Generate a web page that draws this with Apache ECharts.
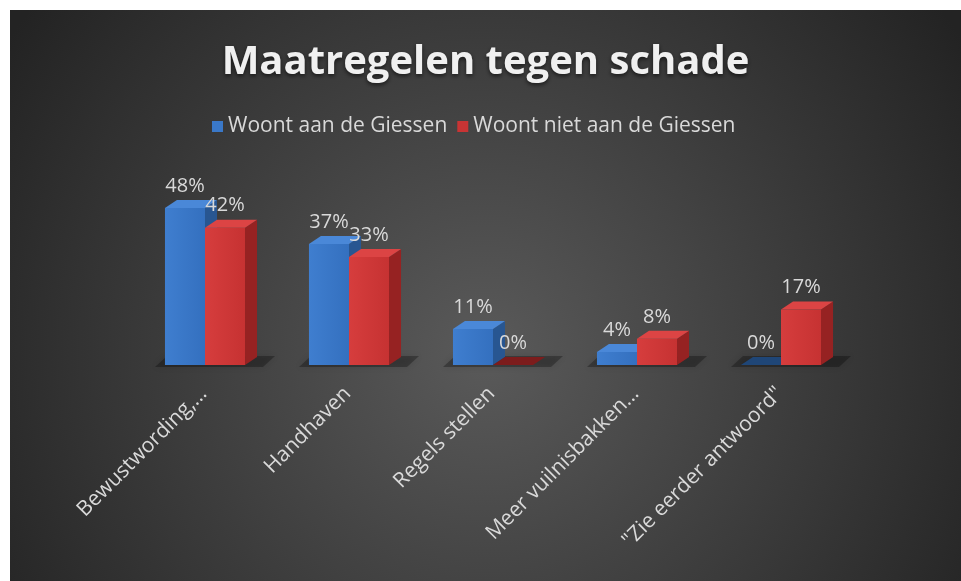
<!DOCTYPE html>
<html lang="nl">
<head>
    <meta charset="UTF-8">
    <title>Maatregelen tegen schade</title>
    <style>
        html, body {
            margin: 0;
            padding: 0;
            background-color: #ffffff;
        }

        #chart {
            position: absolute;
            left: 10px;
            top: 10px;
            width: 951px;
            height: 571px;
        }
    </style>
</head>
<body>
<div id="chart"></div>
<script src="https://cdn.jsdelivr.net/npm/echarts@6/dist/echarts.min.js"></script>
<script>
    var categories = ['Bewustwording,…', 'Handhaven', 'Regels stellen', 'Meer vuilnisbakken…', '"Zie eerder antwoord"'];
    var seriesNames = ['Woont aan de Giessen', 'Woont niet aan de Giessen'];
    var woontAan = [48, 37, 11, 4, 0];
    var woontNiet = [42, 33, 0, 8, 17];

    var font = '"Open Sans", "Liberation Sans", sans-serif';
    var textColor = '#d9d9d9';
    var depthX = 12, depthY = 8;

    // kleuren per serie: voorkant, zijkant, bovenkant, bovenkant bij 0
    var palette = [
        {front: ['#3f7ecf', '#3470bf'], side: '#285691', top: '#4a88d8', flat: '#1f4677'},
        {front: ['#d63d3d', '#c63232'], side: '#962222', top: '#dc4444', flat: '#7c1c1c'}
    ];

    function barRenderer(idx) {
        return function (params, api) {
            var ci = api.value(0), v = api.value(1);
            var base = api.coord([ci, 0]);
            var top = api.coord([ci, v]);
            var w = api.size([1, 0])[0] * 0.278;
            var x0 = idx === 0 ? base[0] - w : base[0];
            var x1 = x0 + w;
            var yb = base[1], yt = top[1];
            var c = palette[idx];
            var children = [];
            if (v > 0) {
                children.push({
                    type: 'polygon',
                    shape: {points: [[x1, yb], [x1 + depthX, yb - depthY], [x1 + depthX, yt - depthY], [x1, yt]]},
                    style: {fill: c.side}
                });
                children.push({
                    type: 'rect',
                    shape: {x: x0, y: yt, width: w, height: yb - yt},
                    style: {
                        fill: new echarts.graphic.LinearGradient(0, 0, 1, 0, [
                            {offset: 0, color: c.front[0]},
                            {offset: 1, color: c.front[1]}
                        ])
                    }
                });
            }
            children.push({
                type: 'polygon',
                shape: {points: [[x0, yt], [x1, yt], [x1 + depthX, yt - depthY], [x0 + depthX, yt - depthY]]},
                style: {fill: v > 0 ? c.top : c.flat}
            });
            children.push({
                type: 'text',
                style: {
                    x: (x0 + x1) / 2,
                    y: yt - depthY - 4,
                    text: Math.round(v) + '%',
                    fill: textColor,
                    font: '20px ' + font,
                    align: 'center',
                    verticalAlign: 'bottom'
                }
            });
            return {type: 'group', children: children};
        };
    }

    // schaduw op de vloer achter elke groep
    function floorRenderer(params, api) {
        var p = api.coord([api.value(0), 0]);
        var x = p[0], y = p[1];
        return {
            type: 'polygon',
            shape: {points: [[x - 50, y + 2], [x + 58, y + 2], [x + 70, y - 9], [x - 38, y - 9]]},
            style: {fill: 'rgba(0,0,0,0.28)', shadowBlur: 6, shadowColor: 'rgba(0,0,0,0.4)'},
            silent: true
        };
    }

    var chart = echarts.init(document.getElementById('chart'));
    var option = {
        backgroundColor: {
            type: 'radial', x: 0.5, y: 0.6, r: 1.0,
            colorStops: [
                {offset: 0, color: '#5a5a5a'},
                {offset: 1, color: '#232323'}
            ]
        },
        animation: false,
        title: {
            text: 'Maatregelen tegen schade',
            left: 'center',
            top: 28,
            textStyle: {
                color: '#f0f0f0',
                fontFamily: font,
                fontSize: 40,
                fontWeight: 'bold',
                textShadowColor: 'rgba(0,0,0,0.6)',
                textShadowBlur: 4,
                textShadowOffsetY: 2
            }
        },
        legend: {
            data: [
                {name: seriesNames[0], itemStyle: {color: '#3a78c8'}},
                {name: seriesNames[1], itemStyle: {color: '#c83434'}}
            ],
            left: 197,
            top: 101,
            icon: 'rect',
            itemWidth: 11,
            itemHeight: 11,
            itemGap: 10,
            textStyle: {color: textColor, fontFamily: font, fontSize: 21}
        },
        grid: {
            left: 123,
            right: 108,
            top: 191.5,
            bottom: 216
        },
        xAxis: {
            type: 'category',
            data: categories,
            axisLine: {show: false},
            axisTick: {show: false},
            axisLabel: {
                interval: 0,
                rotate: 45,
                margin: 24,
                padding: [0, 2, 0, 0],
                color: textColor,
                fontFamily: font,
                fontSize: 21
            }
        },
        yAxis: {
            type: 'value',
            min: 0,
            max: 50,
            show: false
        },
        series: [
            {
                type: 'custom',
                name: 'floor',
                silent: true,
                renderItem: floorRenderer,
                data: categories.map(function (c, i) { return [i, 0]; })
            },
            {
                type: 'custom',
                name: seriesNames[0],
                renderItem: barRenderer(0),
                itemStyle: {color: '#3a78c8'},
                data: woontAan.map(function (v, i) { return [i, v]; })
            },
            {
                type: 'custom',
                name: seriesNames[1],
                renderItem: barRenderer(1),
                itemStyle: {color: '#c83434'},
                data: woontNiet.map(function (v, i) { return [i, v]; })
            }
        ]
    };
    chart.setOption(option);
</script>
</body>
</html>
